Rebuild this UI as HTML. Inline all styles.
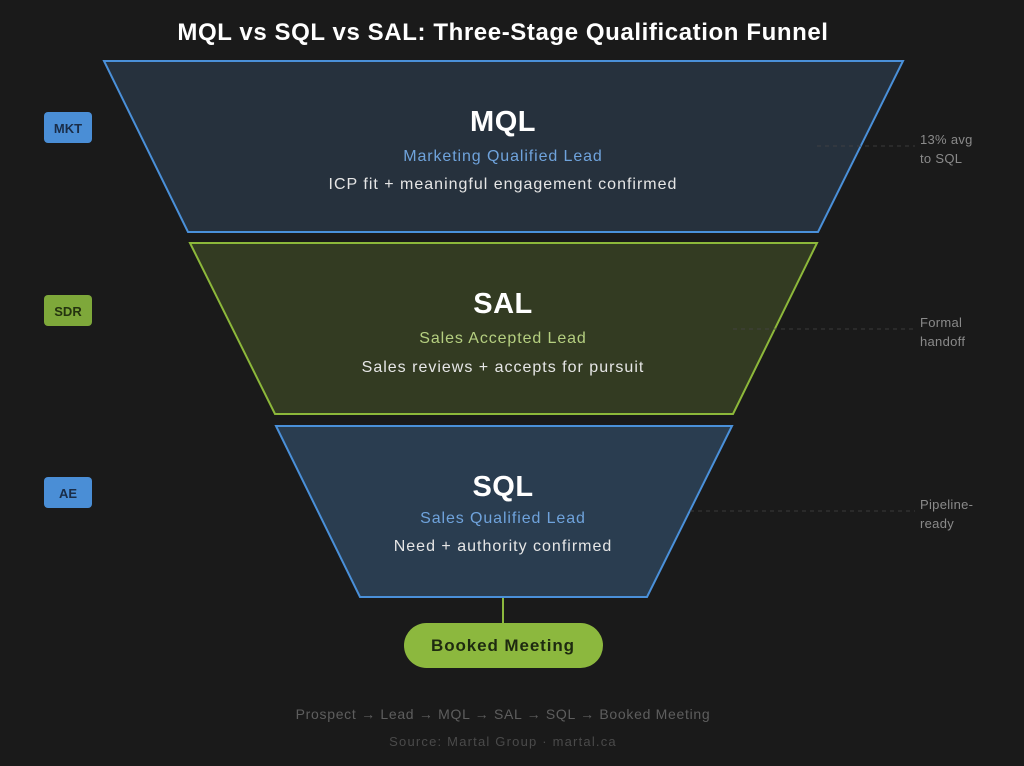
<!DOCTYPE html>
<html><head><meta charset="utf-8"><style>
html,body{margin:0;padding:0;background:#1a1a1a;}
svg{display:block;font-family:"Liberation Sans",sans-serif;}
</style></head><body>
<svg width="1024" height="766" viewBox="0 0 1024 766" xmlns="http://www.w3.org/2000/svg">
<rect width="1024" height="766" fill="#1a1a1a"/>
<text x="503" y="40" text-anchor="middle" fill="#ffffff" font-size="24" font-weight="bold" letter-spacing="0.6">MQL vs SQL vs SAL: Three-Stage Qualification Funnel</text>

<polygon points="104,61 903,61 818,232 188,232" fill="#26313d" stroke="#4a90d9" stroke-width="2"/>
<polygon points="190,243 817,243 733,414 275,414" fill="#333b22" stroke="#8db83a" stroke-width="2"/>
<polygon points="276,426 732,426 647,597 360,597" fill="#2a3d50" stroke="#4a90d9" stroke-width="2"/>

<g stroke="#444" stroke-width="1" stroke-dasharray="4,4" opacity="0.8">
<line x1="817" y1="146" x2="915" y2="146"/>
<line x1="733" y1="329" x2="915" y2="329"/>
<line x1="690" y1="511" x2="915" y2="511"/>
</g>

<text x="503" y="131" text-anchor="middle" fill="#fff" font-size="29" font-weight="bold" letter-spacing="0.5">MQL</text>
<text x="503" y="161" text-anchor="middle" fill="#6fa3dc" font-size="16" letter-spacing="0.9">Marketing Qualified Lead</text>
<text x="503" y="189" text-anchor="middle" fill="#e6e6e6" font-size="16" letter-spacing="1">ICP fit + meaningful engagement confirmed</text>

<text x="503" y="313" text-anchor="middle" fill="#fff" font-size="29" font-weight="bold" letter-spacing="0.5">SAL</text>
<text x="503" y="343" text-anchor="middle" fill="#b5cf80" font-size="16" letter-spacing="0.9">Sales Accepted Lead</text>
<text x="503" y="372" text-anchor="middle" fill="#e6e6e6" font-size="16" letter-spacing="1">Sales reviews + accepts for pursuit</text>

<text x="503" y="496" text-anchor="middle" fill="#fff" font-size="29" font-weight="bold" letter-spacing="0.5">SQL</text>
<text x="503" y="523" text-anchor="middle" fill="#6fa3dc" font-size="16" letter-spacing="0.9">Sales Qualified Lead</text>
<text x="503" y="551" text-anchor="middle" fill="#e6e6e6" font-size="16" letter-spacing="1">Need + authority confirmed</text>

<g font-size="13" fill="#8a8a8a" letter-spacing="0.3">
<text x="920" y="144">13% avg</text><text x="920" y="163">to SQL</text>
<text x="920" y="327">Formal</text><text x="920" y="346">handoff</text>
<text x="920" y="509">Pipeline-</text><text x="920" y="528">ready</text>
</g>

<rect x="44" y="112" width="48" height="31" rx="4" fill="#4a8ed6"/>
<text x="68" y="133" text-anchor="middle" fill="#1a2d48" font-size="13" font-weight="bold">MKT</text>
<rect x="44" y="295" width="48" height="31" rx="4" fill="#7ea83a"/>
<text x="68" y="316" text-anchor="middle" fill="#24330f" font-size="13" font-weight="bold">SDR</text>
<rect x="44" y="477" width="48" height="31" rx="4" fill="#4a8ed6"/>
<text x="68" y="498" text-anchor="middle" fill="#1a2d48" font-size="13" font-weight="bold">AE</text>

<line x1="503" y1="598" x2="503" y2="623" stroke="#8cb83e" stroke-width="2"/>
<rect x="404" y="623" width="199" height="45" rx="22.5" fill="#8cb83e"/>
<text x="503" y="651" text-anchor="middle" fill="#1e2a10" font-size="17" font-weight="bold" letter-spacing="0.9">Booked Meeting</text>

<text x="503" y="719" text-anchor="middle" fill="#5e5e5e" font-size="14" letter-spacing="0.7">Prospect → Lead → MQL → SAL → SQL → Booked Meeting</text>
<text x="503" y="746" text-anchor="middle" fill="#4a4a4a" font-size="13" letter-spacing="1.2">Source: Martal Group · martal.ca</text>
</svg>
</body></html>
